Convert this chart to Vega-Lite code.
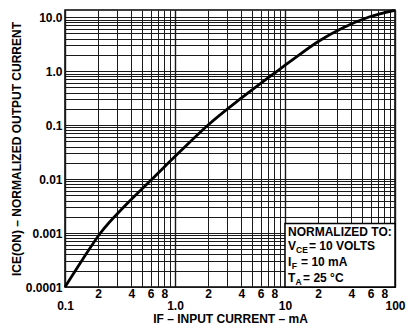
{
  "$schema": "https://vega.github.io/schema/vega-lite/v6.json",
  "width": 330,
  "height": 277,
  "autosize": "none",
  "padding": {"left": 65, "top": 10, "right": 12, "bottom": 41},
  "background": "white",
  "config": {
    "view": {"stroke": "black", "strokeWidth": 1.5},
    "font": "Liberation Sans"
  },
  "resolve": {"axis": {"x": "independent"}},
  "datasets": {
    "curve": [
      {"current": 0.1, "output": 0.0001},
      {"current": 0.145, "output": 0.000327},
      {"current": 0.21, "output": 0.001},
      {"current": 0.36, "output": 0.00337},
      {"current": 0.62, "output": 0.01},
      {"current": 1.1, "output": 0.0315},
      {"current": 2.0, "output": 0.1},
      {"current": 4.0, "output": 0.314},
      {"current": 8.5, "output": 1.0},
      {"current": 12, "output": 1.68},
      {"current": 20.4, "output": 3.6},
      {"current": 33, "output": 6.2},
      {"current": 58, "output": 10},
      {"current": 100, "output": 13.3}
    ],
    "box": [
      {"x1": 10, "x2": 100, "y1": 0.0001, "y2": 0.0015}
    ],
    "notes": [
      {"x": 10.65, "y": 0.00106, "t": "NORMALIZED TO:"},
      {"x": 10.65, "y": 0.000582, "t": "V"},
      {"x": 16.5, "y": 0.000582, "t": "= 10 VOLTS"},
      {"x": 10.65, "y": 0.000294, "t": "I"},
      {"x": 14.0, "y": 0.000294, "t": "= 10 mA"},
      {"x": 10.65, "y": 0.000148, "t": "T"},
      {"x": 14.6, "y": 0.000148, "t": "= 25 °C"}
    ],
    "subs": [
      {"x": 12.6, "y": 0.000491, "t": "CE"},
      {"x": 11.5, "y": 0.000247, "t": "F"},
      {"x": 12.46, "y": 0.000125, "t": "A"}
    ]
  },
  "layer": [
    {
      "data": {"name": "curve"},
      "mark": {"type": "line", "color": "black", "strokeWidth": 2.8, "interpolate": "monotone"},
      "encoding": {
        "x": {
          "field": "current",
          "type": "quantitative",
          "scale": {"type": "log", "domain": [0.1, 100], "nice": false},
          "axis": {
            "orient": "bottom",
            "values": [0.1, 0.2, 0.3, 0.4, 0.5, 0.6, 0.7, 0.8, 0.9, 1, 2, 3, 4, 5, 6, 7, 8, 9, 10, 20, 30, 40, 50, 60, 70, 80, 90, 100],
            "labelExpr": "(datum.value == 0.2 || datum.value == 2 || datum.value == 20) ? '2' : (datum.value == 0.4 || datum.value == 4 || datum.value == 40) ? '4' : (datum.value == 0.6 || datum.value == 6 || datum.value == 60) ? '6' : (datum.value == 0.8 || datum.value == 8 || datum.value == 80) ? '8' : ''",
            "labelOverlap": false,
            "labelFlush": false,
            "ticks": false,
            "domain": false,
            "grid": true,
            "gridColor": "#1a1a1a",
            "gridOpacity": 1,
            "gridWidth": 1,
            "labelFont": "Liberation Sans",
            "labelFontWeight": "bold",
            "labelFontSize": 12,
            "labelColor": "black",
            "labelPadding": 1,
            "title": null
          }
        },
        "y": {
          "field": "output",
          "type": "quantitative",
          "scale": {"type": "log", "domain": [0.0001, 13.5], "nice": false},
          "axis": {
            "values": [0.0001, 0.0002, 0.0003, 0.0004, 0.0005, 0.0006, 0.0007, 0.0008, 0.0009, 0.001, 0.002, 0.003, 0.004, 0.005, 0.006, 0.007, 0.008, 0.009, 0.01, 0.02, 0.03, 0.04, 0.05, 0.06, 0.07, 0.08, 0.09, 0.1, 0.2, 0.3, 0.4, 0.5, 0.6, 0.7, 0.8, 0.9, 1, 2, 3, 4, 5, 6, 7, 8, 9, 10],
            "labelExpr": "datum.value == 0.0001 ? '0.0001' : datum.value == 0.001 ? '0.001' : datum.value == 0.01 ? '0.01' : datum.value == 0.1 ? '0.1' : datum.value == 1 ? '1.0' : datum.value == 10 ? '10.0' : ''",
            "labelOverlap": false,
            "labelFlush": false,
            "ticks": false,
            "domain": false,
            "grid": true,
            "gridColor": "#1a1a1a",
            "gridOpacity": 1,
            "gridWidth": 1,
            "labelFont": "Liberation Sans",
            "labelFontWeight": "bold",
            "labelFontSize": 12,
            "labelColor": "black",
            "labelPadding": 3,
            "title": "ICE(ON) – NORMALIZED OUTPUT CURRENT",
            "titleFont": "Liberation Sans",
            "titleFontSize": 12,
            "titleFontWeight": "bold",
            "titleColor": "black",
            "titlePadding": 2
          }
        }
      }
    },
    {
      "data": {"name": "box"},
      "mark": {"type": "rect", "fill": "white", "stroke": "black", "strokeWidth": 1.5},
      "encoding": {
        "x": {
          "field": "x1",
          "type": "quantitative",
          "axis": {
            "orient": "bottom",
            "values": [0.1, 1, 10, 100],
            "labelExpr": "datum.value == 0.1 ? '0.1' : datum.value == 1 ? '1.0' : datum.value == 10 ? '10' : '100'",
            "labelOverlap": false,
            "labelFlush": false,
            "ticks": false,
            "domain": false,
            "grid": true,
            "gridColor": "#1a1a1a",
            "gridOpacity": 1,
            "gridWidth": 1.4,
            "labelFont": "Liberation Sans",
            "labelFontWeight": "bold",
            "labelFontSize": 12,
            "labelColor": "black",
            "labelPadding": 13,
            "title": "IF – INPUT CURRENT – mA",
            "titleFont": "Liberation Sans",
            "titleFontSize": 12,
            "titleFontWeight": "bold",
            "titleColor": "black",
            "titlePadding": 2
          }
        },
        "x2": {"field": "x2"},
        "y": {"field": "y1", "type": "quantitative"},
        "y2": {"field": "y2"}
      }
    },
    {
      "data": {"name": "notes"},
      "mark": {"type": "text", "align": "left", "baseline": "middle", "font": "Liberation Sans", "fontSize": 12, "fontWeight": "bold", "color": "black"},
      "encoding": {
        "x": {"field": "x", "type": "quantitative", "axis": null},
        "y": {"field": "y", "type": "quantitative"},
        "text": {"field": "t"}
      }
    },
    {
      "data": {"name": "subs"},
      "mark": {"type": "text", "align": "left", "baseline": "middle", "font": "Liberation Sans", "fontSize": 8.5, "fontWeight": "bold", "color": "black"},
      "encoding": {
        "x": {"field": "x", "type": "quantitative", "axis": null},
        "y": {"field": "y", "type": "quantitative"},
        "text": {"field": "t"}
      }
    }
  ]
}
